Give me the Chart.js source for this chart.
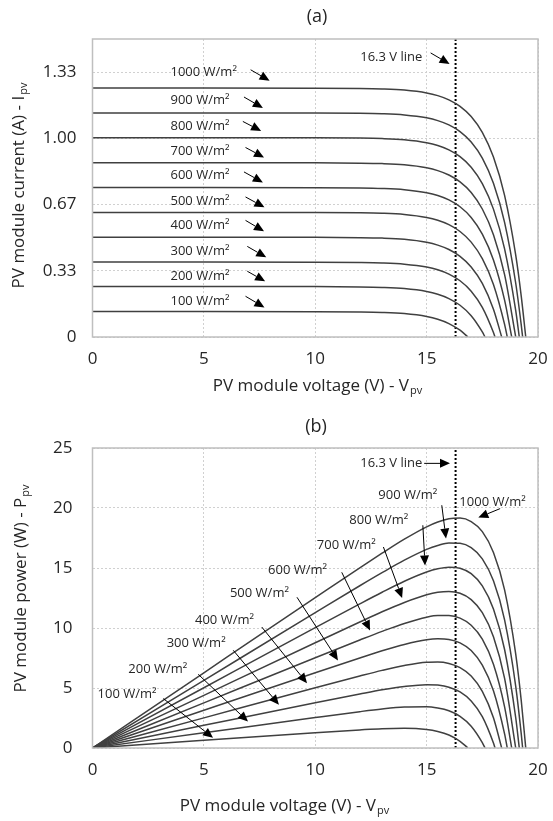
<!DOCTYPE html>
<html>
<head>
<meta charset="utf-8">
<script src="https://cdn.jsdelivr.net/npm/chart.js@4.4.1/dist/chart.umd.min.js"></script>
<style>
  body { margin: 0; background: #fff; }
  canvas { display: block; }
</style>
</head>
<body>
<canvas id="ivChart" width="553" height="410"></canvas>
<canvas id="pvChart" width="553" height="411"></canvas>
<script>
// Irradiance levels, one curve each
const irradiance = [100, 200, 300, 400, 500, 600, 700, 800, 900, 1000];

// Shared voltage grid (V) and open-circuit voltage of each curve
const volts = [0, 5, 10, 12, 13, 14, 15, 15.5, 16, 16.5, 17, 17.5, 18, 18.5, 19, 19.25];
const openCircuitVolts = [16.85, 17.62, 18.07, 18.37, 18.62, 18.82, 19.0, 19.16, 19.31, 19.45];
const markerVolt = 16.3;

// Module current (A), read at the voltage grid (null = past Voc)
const current100 = [0.128, 0.128, 0.1277, 0.1262, 0.1238, 0.1178, 0.1031, 0.0893, 0.0677, 0.0341, null, null, null, null, null, null];
const current200 = [0.254, 0.254, 0.2537, 0.2522, 0.2497, 0.2437, 0.229, 0.2151, 0.1935, 0.1598, 0.1073, 0.0256, null, null, null, null];
const current300 = [0.377, 0.377, 0.3767, 0.3752, 0.3728, 0.3667, 0.3521, 0.3382, 0.3166, 0.283, 0.2308, 0.1493, 0.0226, null, null, null];
const current400 = [0.502, 0.502, 0.5017, 0.5002, 0.4977, 0.4915, 0.4765, 0.4624, 0.4404, 0.4061, 0.3527, 0.2695, 0.1401, null, null, null];
const current500 = [0.627, 0.627, 0.6267, 0.6252, 0.6227, 0.6165, 0.6015, 0.5874, 0.5653, 0.5309, 0.4775, 0.3943, 0.2648, 0.0633, null, null];
const current600 = [0.752, 0.752, 0.7517, 0.7502, 0.7476, 0.7414, 0.7264, 0.7121, 0.69, 0.6555, 0.6018, 0.5181, 0.388, 0.1854, null, null];
const current700 = [0.877, 0.877, 0.8767, 0.8752, 0.8727, 0.8665, 0.8516, 0.8374, 0.8153, 0.7811, 0.7277, 0.6444, 0.5151, 0.3136, null, null];
const current800 = [1.003, 1.003, 1.0027, 1.0012, 0.9987, 0.9926, 0.9777, 0.9637, 0.9418, 0.9077, 0.8548, 0.7721, 0.6437, 0.4436, 0.1324, null];
const current900 = [1.128, 1.128, 1.1277, 1.1263, 1.1238, 1.1177, 1.1031, 1.0893, 1.0678, 1.0342, 0.9819, 0.9007, 0.7741, 0.5772, 0.2706, 0.0586];
const current1000 = [1.253, 1.253, 1.2527, 1.2513, 1.2488, 1.2429, 1.2286, 1.215, 1.1939, 1.1609, 1.1097, 1.03, 0.9057, 0.7125, 0.4116, 0.2032];

// Module power (W), read at the same grid
const power100 = [0, 0.64, 1.28, 1.51, 1.61, 1.65, 1.55, 1.38, 1.08, 0.56, null, null, null, null, null, null];
const power200 = [0, 1.27, 2.54, 3.03, 3.25, 3.41, 3.44, 3.33, 3.10, 2.64, 1.82, 0.45, null, null, null, null];
const power300 = [0, 1.89, 3.77, 4.50, 4.85, 5.13, 5.28, 5.24, 5.07, 4.67, 3.92, 2.61, 0.41, null, null, null];
const power400 = [0, 2.51, 5.02, 6.00, 6.47, 6.88, 7.15, 7.17, 7.05, 6.70, 6.00, 4.72, 2.52, null, null, null];
const power500 = [0, 3.14, 6.27, 7.50, 8.10, 8.63, 9.02, 9.10, 9.05, 8.76, 8.12, 6.90, 4.77, 1.17, null, null];
const power600 = [0, 3.76, 7.52, 9.00, 9.72, 10.38, 10.90, 11.04, 11.04, 10.82, 10.23, 9.07, 6.98, 3.43, null, null];
const power700 = [0, 4.39, 8.77, 10.50, 11.35, 12.13, 12.77, 12.98, 13.05, 12.89, 12.37, 11.28, 9.27, 5.80, null, null];
const power800 = [0, 5.02, 10.03, 12.01, 12.98, 13.90, 14.67, 14.94, 15.07, 14.98, 14.53, 13.51, 11.59, 8.21, 2.52, null];
const power900 = [0, 5.64, 11.28, 13.52, 14.61, 15.65, 16.55, 16.88, 17.09, 17.06, 16.69, 15.76, 13.93, 10.68, 5.14, 1.13];
const power1000 = [0, 6.27, 12.53, 15.02, 16.23, 17.40, 18.43, 18.83, 19.10, 19.16, 18.87, 18.03, 16.30, 13.18, 7.82, 3.91];

// Tick labels
const xTickValues = [0, 5, 10, 15, 20];
const currentTickValues = [0, 1 / 3, 2 / 3, 1, 4 / 3];
const currentTickLabels = ['0', '0.33', '0.67', '1.00', '1.33'];
const powerTickValues = [0, 5, 10, 15, 20, 25];

const currentSeries = [current100, current200, current300, current400, current500, current600, current700, current800, current900, current1000];
const powerSeries = [power100, power200, power300, power400, power500, power600, power700, power800, power900, power1000];

Chart.defaults.font.family = '"Open Sans", sans-serif';
Chart.defaults.color = '#262626';

const FONT = '"Open Sans", sans-serif';
const curveColor = '#404040';

// Turn a series into {x, y} points ending at the curve's Voc
const toPoints = (values, k) => {
  const pts = [];
  values.forEach((v, i) => { if (v !== null) pts.push({ x: volts[i], y: v }); });
  pts.push({ x: openCircuitVolts[k], y: 0 });
  return pts;
};

const buildDatasets = (series, yTop) => {
  const sets = series.map((values, k) => ({
    label: irradiance[k] + ' W/m²',
    data: toPoints(values, k),
    borderColor: curveColor,
    borderWidth: 1.5,
    showLine: true,
    pointRadius: 0,
    cubicInterpolationMode: 'monotone'
  }));
  sets.push({
    label: '16.3 V line',
    data: [{ x: markerVolt, y: 0 }, { x: markerVolt, y: yTop }],
    borderColor: '#000',
    borderWidth: 2,
    borderDash: [2, 2],
    showLine: true,
    pointRadius: 0
  });
  return sets;
};

function drawArrow(ctx, x1, y1, x2, y2) {
  const ang = Math.atan2(y2 - y1, x2 - x1);
  const head = 10, half = 4.5;
  const bx = x2 - head * Math.cos(ang), by = y2 - head * Math.sin(ang);
  ctx.beginPath();
  ctx.moveTo(x1, y1);
  ctx.lineTo(bx, by);
  ctx.stroke();
  ctx.beginPath();
  ctx.moveTo(x2, y2);
  ctx.lineTo(bx + half * Math.sin(ang), by - half * Math.cos(ang));
  ctx.lineTo(bx - half * Math.sin(ang), by + half * Math.cos(ang));
  ctx.closePath();
  ctx.fill();
}

// main text + "pv" subscript, centred on (cx, cy)
function subText(ctx, main, sub, cx, cy) {
  ctx.font = '17px ' + FONT;
  const w1 = ctx.measureText(main).width;
  ctx.font = '11px ' + FONT;
  const w2 = ctx.measureText(sub).width;
  const x0 = cx - (w1 + w2) / 2;
  ctx.textAlign = 'left';
  ctx.textBaseline = 'middle';
  ctx.font = '17px ' + FONT;
  ctx.fillText(main, x0, cy);
  ctx.font = '11px ' + FONT;
  ctx.fillText(sub, x0 + w1 + 1, cy + 5);
}

const makeDecor = (cfg) => ({
  id: 'decor',
  afterDraw(chart) {
    const { ctx, chartArea: a, scales: { x, y } } = chart;
    ctx.save();
    ctx.strokeStyle = '#bfbfbf';
    ctx.lineWidth = 1.5;
    ctx.strokeRect(a.left, a.top, a.right - a.left, a.bottom - a.top);

    ctx.fillStyle = '#262626';
    ctx.font = '18px ' + FONT;
    ctx.textAlign = 'center';
    ctx.textBaseline = 'middle';
    ctx.fillText(cfg.panel, cfg.panelAt[0], cfg.panelAt[1]);

    subText(ctx, cfg.xTitle, 'pv', cfg.xTitleAt[0], cfg.xTitleAt[1]);
    ctx.save();
    ctx.translate(cfg.yTitleAt[0], cfg.yTitleAt[1]);
    ctx.rotate(-Math.PI / 2);
    subText(ctx, cfg.yTitle, 'pv', 0, 0);
    ctx.restore();

    ctx.font = '13px ' + FONT;
    ctx.textAlign = 'left';
    ctx.textBaseline = 'middle';
    ctx.strokeStyle = '#000';
    ctx.lineWidth = 1;
    cfg.notes.forEach(n => {
      ctx.fillStyle = '#262626';
      ctx.fillText(n.text, x.getPixelForValue(n.at[0]), y.getPixelForValue(n.at[1]));
      ctx.fillStyle = '#000';
      drawArrow(ctx,
        x.getPixelForValue(n.from[0]), y.getPixelForValue(n.from[1]),
        x.getPixelForValue(n.to[0]), y.getPixelForValue(n.to[1]));
    });
    ctx.restore();
  }
});

const xScale = {
  type: 'linear', min: 0, max: 20,
  afterBuildTicks: s => { s.ticks = xTickValues.map(v => ({ value: v })); },
  ticks: { font: { size: 17 }, padding: 12, maxRotation: 0 },
  grid: { color: '#d0d0d0', drawTicks: false },
  border: { display: false, dash: [2, 2] },
  afterFit: s => { s.height = 73; s.paddingRight = 0; s.paddingLeft = 0; }
};

// (a) current vs voltage
new Chart(document.getElementById('ivChart'), {
  type: 'scatter',
  data: { datasets: buildDatasets(currentSeries, 1.5) },
  options: {
    responsive: false,
    animation: false,
    layout: { padding: { left: 0, right: 15, top: 39, bottom: 0 } },
    plugins: { legend: { display: false }, tooltip: { enabled: false } },
    scales: {
      x: xScale,
      y: {
        type: 'linear', min: 0, max: 1.5,
        afterBuildTicks: s => { s.ticks = currentTickValues.map(v => ({ value: v })); },
        ticks: { font: { size: 17 }, padding: 16, callback: (v, i) => currentTickLabels[i] },
        grid: { color: '#d0d0d0', drawTicks: false },
        border: { display: false, dash: [2, 2] },
        afterFit: s => { s.width = 92.5; }
      }
    }
  },
  plugins: [makeDecor({
    panel: '(a)', panelAt: [317, 17],
    xTitle: 'PV module voltage (V) - V', xTitleAt: [317, 386],
    yTitle: 'PV module current (A) - I', yTitleAt: [19, 186],
    notes: [
      { text: '1000 W/m²', at: [3.5, 1.333], from: [7.1, 1.345], to: [7.95, 1.29] },
      { text: '900 W/m²', at: [3.5, 1.192], from: [6.8, 1.208], to: [7.65, 1.153] },
      { text: '800 W/m²', at: [3.5, 1.063], from: [6.75, 1.085], to: [7.57, 1.037] },
      { text: '700 W/m²', at: [3.5, 0.936], from: [6.87, 0.954], to: [7.7, 0.904] },
      { text: '600 W/m²', at: [3.5, 0.812], from: [6.8, 0.831], to: [7.65, 0.778] },
      { text: '500 W/m²', at: [3.5, 0.684], from: [6.87, 0.705], to: [7.72, 0.653] },
      { text: '400 W/m²', at: [3.5, 0.564], from: [6.87, 0.587], to: [7.7, 0.532] },
      { text: '300 W/m²', at: [3.5, 0.433], from: [6.95, 0.456], to: [7.8, 0.401] },
      { text: '200 W/m²', at: [3.5, 0.307], from: [6.95, 0.331], to: [7.75, 0.28] },
      { text: '100 W/m²', at: [3.5, 0.178], from: [6.87, 0.205], to: [7.72, 0.149] },
      { text: '16.3 V line', at: [12.02, 1.41], from: [15.18, 1.43], to: [16.03, 1.374] }
    ]
  })]
});

// (b) power vs voltage
new Chart(document.getElementById('pvChart'), {
  type: 'scatter',
  data: { datasets: buildDatasets(powerSeries, 25) },
  options: {
    responsive: false,
    animation: false,
    layout: { padding: { left: 0, right: 15, top: 38, bottom: 0 } },
    plugins: { legend: { display: false }, tooltip: { enabled: false } },
    scales: {
      x: xScale,
      y: {
        type: 'linear', min: 0, max: 25,
        afterBuildTicks: s => { s.ticks = powerTickValues.map(v => ({ value: v })); },
        ticks: { font: { size: 17 }, padding: 20 },
        grid: { color: '#d0d0d0', drawTicks: false },
        border: { display: false, dash: [2, 2] },
        afterFit: s => { s.width = 92.5; }
      }
    }
  },
  plugins: [makeDecor({
    panel: '(b)', panelAt: [316, 17],
    xTitle: 'PV module voltage (V) - V', xTitleAt: [284, 396],
    yTitle: 'PV module power (W) - P', yTitleAt: [21, 179],
    notes: [
      { text: '16.3 V line', at: [12.02, 23.7], from: [14.89, 23.72], to: [16.05, 23.72] },
      { text: '1000 W/m²', at: [16.47, 20.5], from: [18.3, 19.95], to: [17.32, 19.2] },
      { text: '900 W/m²', at: [12.83, 21.06], from: [15.68, 20.23], to: [15.87, 17.45] },
      { text: '800 W/m²', at: [11.53, 18.98], from: [14.83, 18.56], to: [14.93, 15.2] },
      { text: '700 W/m²', at: [10.07, 16.89], from: [13.06, 16.75], to: [13.9, 12.5] },
      { text: '600 W/m²', at: [7.88, 14.81], from: [11.19, 14.64], to: [12.46, 9.8] },
      { text: '500 W/m²', at: [6.17, 12.87], from: [9.18, 12.56], to: [11.02, 7.3] },
      { text: '400 W/m²', at: [4.6, 10.64], from: [7.6, 10.08], to: [9.63, 5.4] },
      { text: '300 W/m²', at: [3.33, 8.7], from: [6.32, 8.14], to: [8.37, 3.6] },
      { text: '200 W/m²', at: [1.61, 6.56], from: [4.75, 6.14], to: [6.98, 2.2] },
      { text: '100 W/m²', at: [0.23, 4.45], from: [3.18, 4.12], to: [5.41, 0.85] }
    ]
  })]
});
</script>
</body>
</html>
